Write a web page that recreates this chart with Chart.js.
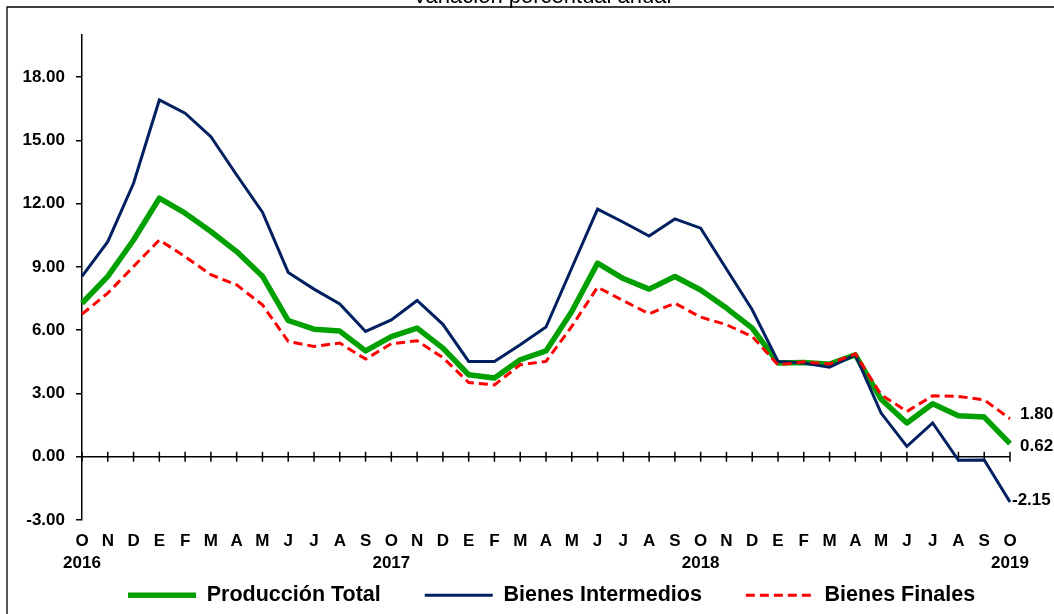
<!DOCTYPE html>
<html><head><meta charset="utf-8">
<script src="https://cdn.jsdelivr.net/npm/chart.js@4.4.1/dist/chart.umd.min.js"></script>
<style>html,body{margin:0;padding:0;background:#fff;overflow:hidden}#wrap{width:1054px;height:614px;position:relative}</style>
</head><body><div id="wrap"><canvas id="c" width="1054" height="614"></canvas></div>
<script>
const titleText = 'Variación porcentual anual';
const months = ['O','N','D','E','F','M','A','M','J','J','A','S','O','N','D','E','F','M','A','M','J','J','A','S','O','N','D','E','F','M','A','M','J','J','A','S','O'];
const years = ['2016','2017','2018','2019'];
const yearIndex = [0, 12, 24, 36];
const yTickValues = [-3, 0, 3, 6, 9, 12, 15, 18];
const produccionTotal = [7.28,8.55,10.28,12.26,11.55,10.68,9.73,8.56,6.46,6.05,5.96,5.02,5.70,6.10,5.15,3.89,3.73,4.60,5.02,6.89,9.18,8.45,7.95,8.55,7.91,7.05,6.10,4.45,4.47,4.39,4.83,2.73,1.60,2.51,1.94,1.88,0.62];
const bienesIntermedios = [8.55,10.20,12.97,16.92,16.29,15.18,13.36,11.60,8.74,7.95,7.25,5.94,6.49,7.41,6.28,4.52,4.52,5.31,6.15,8.95,11.74,11.12,10.47,11.28,10.84,8.90,6.97,4.52,4.44,4.25,4.83,2.07,0.49,1.60,-0.17,-0.15,-2.15];
const bienesFinales = [6.76,7.76,9.02,10.28,9.49,8.63,8.15,7.20,5.47,5.23,5.39,4.63,5.36,5.50,4.70,3.52,3.41,4.36,4.52,6.18,8.04,7.40,6.78,7.28,6.62,6.26,5.70,4.36,4.50,4.40,4.88,2.94,2.15,2.89,2.86,2.70,1.80];

const labels = months.map((m, i) => yearIndex.includes(i) ? [m, years[yearIndex.indexOf(i)]] : m);
const FONT = '"Liberation Sans", Arial, Helvetica, sans-serif';
Chart.defaults.font.family = FONT;
Chart.defaults.color = '#000';
const labelOffsets = [[10, 2.5], [2, -1.5], [10, -4]];
const legendStartX = 128;
const legendTop = 540.5;

const frameAndTitle = {
  id: 'frameAndTitle',
  afterLayout(chart) {
    const lg = chart.legend;
    if (!lg || !lg.lineWidths) return;
    const pad = lg.options.labels.padding;
    const x0 = (lg.left + pad + lg.right - lg.lineWidths[0]) / 2;
    const dx = legendStartX - x0;
    lg.left += dx; lg.right += dx;
    lg.top = legendTop;
    lg.bottom = chart.height;
  },
  beforeDraw(chart) {
    const ctx = chart.ctx;
    ctx.save();
    ctx.fillStyle = '#fff';
    ctx.fillRect(0, 0, chart.width, chart.height);
    ctx.strokeStyle = '#000';
    ctx.lineWidth = 1.3;
    ctx.beginPath();
    ctx.moveTo(7, chart.height + 2);
    ctx.lineTo(7, 7);
    ctx.lineTo(chart.width + 2, 7);
    ctx.stroke();
    ctx.font = '22px ' + FONT;
    ctx.fillStyle = '#000';
    ctx.textAlign = 'center';
    ctx.textBaseline = 'alphabetic';
    ctx.fillText(titleText, 542, 3);
    ctx.restore();
  }
};

const zeroAxis = {
  id: 'zeroAxis',
  beforeDatasetsDraw(chart) {
    const {ctx, chartArea, scales: {x, y}} = chart;
    const y0 = y.getPixelForValue(0);
    ctx.save();
    ctx.strokeStyle = '#000';
    ctx.lineWidth = 1.5;
    ctx.beginPath();
    ctx.moveTo(chartArea.left, y0);
    ctx.lineTo(x.getPixelForValue(months.length - 1), y0);
    for (let i = 0; i < months.length; i++) {
      const px = x.getPixelForValue(i);
      ctx.moveTo(px, y0 - 5);
      ctx.lineTo(px, y0 + 5);
    }
    ctx.stroke();
    ctx.restore();
  }
};

const endLabels = {
  id: 'endLabels',
  afterDatasetsDraw(chart) {
    const ctx = chart.ctx;
    ctx.save();
    ctx.font = 'bold 17px ' + FONT;
    ctx.fillStyle = '#000';
    ctx.textAlign = 'left';
    ctx.textBaseline = 'middle';
    chart.data.datasets.forEach((ds, i) => {
      const meta = chart.getDatasetMeta(i);
      const pt = meta.data[meta.data.length - 1];
      const off = labelOffsets[i];
      ctx.fillText(ds.data[ds.data.length - 1].toFixed(2), pt.x + off[0], pt.y + off[1]);
    });
    ctx.restore();
  }
};

new Chart(document.getElementById('c'), {
  type: 'line',
  data: {
    labels: labels,
    datasets: [
      { label: 'Producción Total', data: produccionTotal, borderColor: '#00A000', backgroundColor: '#00A000', borderWidth: 5.5, pointRadius: 0, tension: 0, order: 3, borderJoinStyle: 'round' },
      { label: 'Bienes Intermedios', data: bienesIntermedios, borderColor: '#002060', backgroundColor: '#002060', borderWidth: 3, pointRadius: 0, tension: 0, order: 2 },
      { label: 'Bienes Finales', data: bienesFinales, borderColor: '#FF0000', backgroundColor: '#FF0000', borderWidth: 3, borderDash: [9, 5], pointRadius: 0, tension: 0, order: 1 }
    ]
  },
  options: {
    responsive: false,
    animation: false,
    devicePixelRatio: 1,
    layout: { padding: { left: 7, right: 44, top: 35, bottom: 0 } },
    plugins: {
      tooltip: { enabled: false },
      legend: {
        position: 'bottom',
        maxHeight: 38,
        labels: {
          usePointStyle: true,
          pointStyle: 'line',
          pointStyleWidth: 68,
          padding: 44,
          color: '#000',
          font: { size: 21.5, weight: 'bold', family: FONT },
          sort: (a, b) => a.datasetIndex - b.datasetIndex,
          generateLabels: (chart) => {
            const items = Chart.defaults.plugins.legend.labels.generateLabels(chart);
            items.forEach(it => {
              const ds = chart.data.datasets[it.datasetIndex];
              it.lineDash = ds.borderDash || [];
              it.lineWidth = ds.borderWidth;
              it.strokeStyle = ds.borderColor;
              it.fillStyle = ds.borderColor;
            });
            return items;
          }
        }
      }
    },
    scales: {
      x: {
        grid: { display: false, drawTicks: false },
        border: { display: false },
        ticks: { autoSkip: false, maxRotation: 0, minRotation: 0, padding: 11, color: '#000', font: { size: 17, weight: 'bold', family: FONT, lineHeight: 1.25 } },
        afterFit: s => { s.height = 56; }
      },
      y: {
        min: -3, max: 20,
        afterBuildTicks: s => { s.ticks = yTickValues.map(v => ({ value: v })); },
        ticks: { callback: v => Number(v).toFixed(2), padding: 11, color: '#000', font: { size: 17, weight: 'bold', family: FONT } },
        grid: { drawOnChartArea: false, drawTicks: true, tickLength: 6, color: '#000', lineWidth: 1.5 },
        border: { display: true, color: '#000', width: 1.5 },
        afterFit: s => { s.width = 75; }
      }
    }
  },
  plugins: [frameAndTitle, zeroAxis, endLabels]
});
</script>
</body></html>
